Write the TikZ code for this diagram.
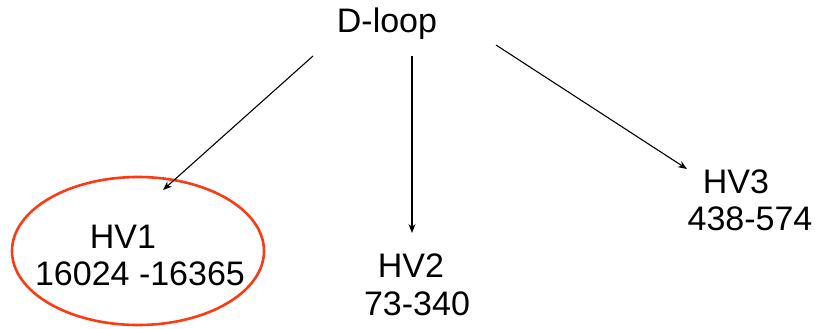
\documentclass[tikz,border=0pt]{standalone}
\usepackage{fontspec}
\setmainfont{Liberation Sans}
\usetikzlibrary{arrows.meta,shapes.geometric}
\begin{document}
\begin{tikzpicture}[x=1pt,y=-1pt,
  lbl/.style={inner sep=0pt,font=\fontsize{34}{38}\selectfont,anchor=center},
  link/.style={draw=black,line width=1.1pt,-{Stealth[length=9pt,width=7pt]}},
  ring/.style={draw={rgb,255:red,250;green,60;blue,20},line width=2.6pt,ellipse,minimum width=252pt,minimum height=148pt,inner sep=0pt}]
  \useasboundingbox (0,0) rectangle (820,329);
  % region labels
  \node[lbl] (dloop) at (387,24) {D-loop};
  \node[ring] (hv1ring) at (138,251) {};
  \node[lbl] (hv1) at (123,237) {HV1};
  \node[lbl] (hv1r) at (140,274) {16024 -16365};
  \node[lbl] (hv2) at (411,266) {HV2};
  \node[lbl] (hv2r) at (417,304) {73-340};
  \node[lbl] (hv3) at (736,182) {HV3};
  \node[lbl] (hv3r) at (750,219) {438-574};
  % arrow end points
  \coordinate (s1) at (313,56);
  \coordinate (t1) at (163,190);
  \coordinate (s2) at (412,56);
  \coordinate (t2) at (412,233);
  \coordinate (s3) at (496,45);
  \coordinate (t3) at (687,169);
  \draw[link] (s1) -- (t1);
  \draw[link] (s2) -- (t2);
  \draw[link] (s3) -- (t3);
\end{tikzpicture}
\end{document}
